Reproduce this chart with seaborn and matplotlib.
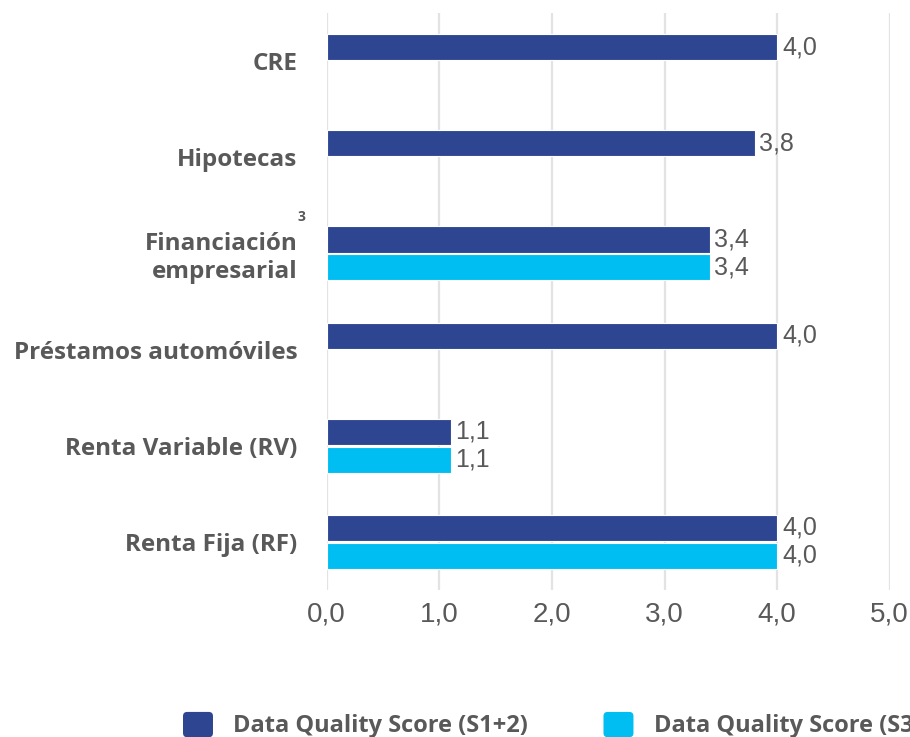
import matplotlib
matplotlib.use("Agg")
import matplotlib.pyplot as plt
from matplotlib.patches import Patch, FancyBboxPatch
from matplotlib.legend_handler import HandlerPatch
import seaborn as sns
import pandas as pd

# Data quality scores by portfolio
categories = ["CRE", "Hipotecas", "Financiación\nempresarial",
              "Préstamos automóviles", "Renta Variable (RV)", "Renta Fija (RF)"]
series = ["Data Quality Score (S1+2)", "Data Quality Score (S3)"]
scores_s12 = [4.0, 3.8, 3.4, 4.0, 1.1, 4.0]
scores_s3 = [None, None, 3.4, None, 1.1, 4.0]
x_ticks = [0, 1, 2, 3, 4, 5]

rows = []
for cat, a, b in zip(categories, scores_s12, scores_s3):
    rows.append({"cat": cat, "serie": series[0], "score": a})
    if b is not None:
        rows.append({"cat": cat, "serie": series[1], "score": b})
df = pd.DataFrame(rows)

dark = "#2E4591"
cyan = "#00BEF2"
grey = "#595959"


def fmt(v):
    return f"{v:.1f}".replace(".", ",")


class RoundedSquare(HandlerPatch):
    def create_artists(self, legend, orig_handle, xdescent, ydescent,
                       width, height, fontsize, trans):
        p = FancyBboxPatch((-xdescent, -ydescent), width, height,
                           boxstyle="round,pad=0,rounding_size=3",
                           facecolor=orig_handle.get_facecolor(),
                           edgecolor="none", transform=trans)
        return [p]


sns.set_style("white")
plt.rcParams["font.family"] = ["Open Sans", "DejaVu Sans"]

fig = plt.figure(figsize=(9.10, 7.37), dpi=100)
ax = fig.add_axes([0.359, 0.1995, 0.6187, 0.7829])

sns.barplot(data=df, y="cat", x="score", hue="serie", order=categories,
            hue_order=series, palette=[dark, cyan], saturation=1, orient="h",
            width=0.58, gap=0.06, errorbar=None, legend=False,
            edgecolor="white", linewidth=0.8, ax=ax, zorder=3)

ax.set_xlim(0, 5)
ax.set_ylim(5.5, -0.5)
ax.set_xticks(x_ticks)
ax.set_xticklabels([fmt(v) for v in x_ticks],
                   fontfamily="Liberation Sans", fontsize=20, color=grey)
ax.tick_params(axis="x", length=0, pad=8)
ax.tick_params(axis="y", length=0, pad=21)
for lbl in ax.get_yticklabels():
    lbl.set_fontweight("bold")
    lbl.set_fontsize(17.5)
    lbl.set_color(grey)
ax.set_xlabel("")
ax.set_ylabel("")
for s in ax.spines.values():
    s.set_visible(False)
ax.grid(axis="x", color="#E3E3E3", linewidth=1.6, zorder=0)
ax.grid(axis="y", visible=False)

for cont in ax.containers:
    ax.bar_label(cont, labels=[fmt(v) for v in cont.datavalues],
                 padding=3.5, fontsize=18, color=grey, fontfamily="Liberation Sans")

# superscript note on the corporate financing label
ax.annotate("3", xy=(0, 2), xycoords=("axes fraction", "data"),
            xytext=(-18, 26), textcoords="offset points",
            fontsize=10, fontweight="bold", color=grey, ha="center", va="center")

handles = [Patch(facecolor=dark, label=series[0]), Patch(facecolor=cyan, label=series[1])]
fig.legend(handles=handles, loc="center left", bbox_to_anchor=(183 / 910, 0.016),
           ncol=2, frameon=False, handlelength=1.27, handleheight=1.27,
           handletextpad=0.85, columnspacing=3.2,
           handler_map={Patch: RoundedSquare()},
           prop={"family": "Open Sans", "weight": "bold", "size": 17},
           labelcolor=grey, borderaxespad=0, borderpad=0)

fig.savefig("out.png", dpi=100)
